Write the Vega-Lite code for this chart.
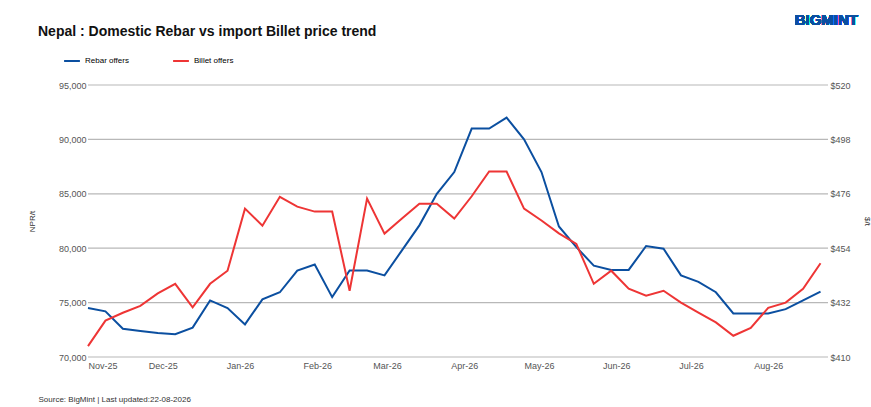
{
"$schema":"https://vega.github.io/schema/vega-lite/v6.json",
"autosize":"none","width":740,"height":272,
"padding":{"left":88,"top":85,"right":43,"bottom":50},
"background":"white",
"config":{"font":"Liberation Sans","view":{"stroke":null},
"axis":{"labelFont":"Liberation Sans","labelFontSize":9,"labelColor":"#555","titleFont":"Liberation Sans","titleFontSize":8,"titleFontWeight":"normal","titleColor":"#333"}},
"title":{"text":"Nepal : Domestic Rebar vs import Billet price trend","anchor":"start","frame":"group","dx":-50,"offset":-26,"fontSize":14,"fontWeight":"bold","color":"#111","font":"Liberation Sans"},
"data":{"values":[
{"d":"2025-11-01","r":74500,"b":414.4},{"d":"2025-11-08","r":74200,"b":424.7},{"d":"2025-11-15","r":72600,"b":427.9},{"d":"2025-11-22","r":72400,"b":430.7},{"d":"2025-11-29","r":72200,"b":435.7},{"d":"2025-12-06","r":72100,"b":439.6},{"d":"2025-12-13","r":72700,"b":430.1},{"d":"2025-12-20","r":75200,"b":439.6},{"d":"2025-12-27","r":74500,"b":444.9},{"d":"2026-01-03","r":73000,"b":470},{"d":"2026-01-10","r":75300,"b":463.1},{"d":"2026-01-17","r":75950,"b":474.8},{"d":"2026-01-24","r":77950,"b":470.8},{"d":"2026-01-31","r":78500,"b":468.8},{"d":"2026-02-07","r":75500,"b":468.8},{"d":"2026-02-14","r":77950,"b":436.8},{"d":"2026-02-21","r":77950,"b":474.1},{"d":"2026-02-28","r":77500,"b":459.9},{"d":"2026-03-07","r":79800,"b":466},{"d":"2026-03-14","r":82100,"b":472},{"d":"2026-03-21","r":85000,"b":472},{"d":"2026-03-28","r":87000,"b":466},{"d":"2026-04-04","r":91000,"b":475},{"d":"2026-04-11","r":91000,"b":485},{"d":"2026-04-18","r":92000,"b":485},{"d":"2026-04-25","r":90000,"b":470},{"d":"2026-05-02","r":87000,"b":465.2},{"d":"2026-05-09","r":82000,"b":460},{"d":"2026-05-16","r":80100,"b":455.7},{"d":"2026-05-23","r":78400,"b":439.6},{"d":"2026-05-30","r":78000,"b":444.9},{"d":"2026-06-06","r":78000,"b":437.6},{"d":"2026-06-13","r":80200,"b":434.8},{"d":"2026-06-20","r":79950,"b":436.8},{"d":"2026-06-27","r":77500,"b":432},{"d":"2026-07-04","r":76900,"b":427.9},{"d":"2026-07-11","r":75950,"b":424},{"d":"2026-07-18","r":74000,"b":418.6},{"d":"2026-07-25","r":74000,"b":421.8},{"d":"2026-08-01","r":74000,"b":429.9},{"d":"2026-08-08","r":74400,"b":432},{"d":"2026-08-15","r":75200,"b":437.6},{"d":"2026-08-22","r":76000,"b":447.9}
]},
"layer":[
{"data":{"values":[{"g":70000},{"g":75000},{"g":80000},{"g":85000},{"g":90000},{"g":95000}]},
"mark":{"type":"rule","color":"#b8b8b8","strokeWidth":1.2},
"encoding":{"y":{"field":"g","type":"quantitative","axis":null,"scale":{"domain":[70000,95000]}}}},
{"mark":{"type":"line","strokeWidth":2},
"encoding":{
"x":{"field":"d","type":"temporal","scale":{"domain":["2025-11-01","2026-08-25"]},
"axis":{"format":"%b-%y","tickCount":{"interval":"month","step":1},"grid":false,"ticks":false,"domain":false,"labelPadding":4,
"title":"Source: BigMint | Last updated:22-08-2026","titleAnchor":"start","titleX":-50,"titleY":38,"titleFontSize":8}},
"y":{"field":"r","type":"quantitative","scale":{"domain":[70000,95000]},
"axis":{"title":"NPR/t","values":[70000,75000,80000,85000,90000,95000],"labelExpr":"format(datum.value, ',')","grid":false,"ticks":false,"domain":false,"titlePadding":22}},
"color":{"datum":"Rebar offers","type":"nominal","scale":{"domain":["Rebar offers","Billet offers"],"range":["#0b4fa0","#ee3535"]},
"legend":{"orient":"none","legendX":-25,"legendY":-33,"direction":"horizontal","title":null,"symbolType":"stroke","symbolStrokeWidth":2,"symbolSize":250,"labelFontSize":8,"labelFont":"Liberation Sans","columnPadding":40}}}},
{"mark":{"type":"line","strokeWidth":2},
"encoding":{
"x":{"field":"d","type":"temporal"},
"y":{"field":"b","type":"quantitative","scale":{"domain":[410,520]},
"axis":{"title":"$/t","orient":"right","values":[410,432,454,476,498,520],"labelExpr":"'$' + datum.value","grid":false,"ticks":false,"domain":false,"titlePadding":12}},
"color":{"datum":"Billet offers","type":"nominal"}}},
{"mark":{"type":"text","text":"BIGMINT","fontSize":15,"fontWeight":"bold","color":"#0b4fa0","dy":-65,"dx":30,"align":"right","font":"Liberation Sans"},
"encoding":{"x":{"datum":{"year":2026,"month":8,"date":25},"type":"temporal"},"y":{"datum":520,"type":"quantitative","axis":null,"scale":{"domain":[410,520]}}}}
],
"resolve":{"scale":{"y":"independent"}}
}
